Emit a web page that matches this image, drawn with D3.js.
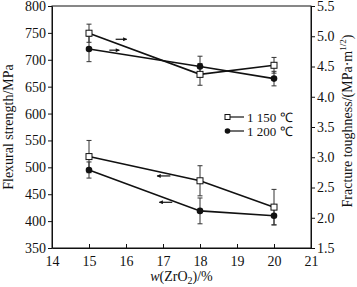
<!DOCTYPE html>
<html><head><meta charset="utf-8">
<script src="https://cdn.jsdelivr.net/npm/d3@7"></script>
<style>body{margin:0;background:#fff}svg{display:block}text{font-family:"Liberation Serif","Times New Roman",serif;fill:#111}</style>
</head><body><svg id="c" width="357" height="287"></svg>
<script>
const xValues = [15, 18, 20];
const xTicks = [14, 15, 16, 17, 18, 19, 20, 21];
const leftTicks = [350, 400, 450, 500, 550, 600, 650, 700, 750, 800];
const rightTicks = [1.5, 2.0, 2.5, 3.0, 3.5, 4.0, 4.5, 5.0, 5.5];
const seriesNames = ["1 150 \u2103", "1 200 \u2103"];
const strength1150 = [520, 475, 426];
const strength1150Err = [30, 28, 33];
const strength1200 = [495, 419, 410];
const strength1200Err = [15, 24, 17];
const tough1150 = [5.05, 4.37, 4.52];
const tough1150Err = [0.15, 0.18, 0.13];
const tough1200 = [4.79, 4.5, 4.3];
const tough1200Err = [0.21, 0.17, 0.12];
// arrows: [x0, x1, value, axis]
const arrows = [
  [15.72, 16.02, 4.95, "right"],
  [15.55, 15.82, 4.77, "right"],
  [17.2, 16.84, 484, "left"],
  [17.25, 16.9, 435, "left"]
];

const svg = d3.select("#c");
const L = 52, R = 311, T = 6, B = 248;
const x = d3.scaleLinear().domain([14, 21]).range([L, R]);
const yL = d3.scaleLinear().domain([350, 800]).range([B, T]);
const yR = d3.scaleLinear().domain([1.5, 5.5]).range([B, T]);

const defs = svg.append("defs");
defs.append("marker").attr("id","ah").attr("viewBox","0 0 10 10").attr("refX",9).attr("refY",5)
  .attr("markerWidth",6).attr("markerHeight",4).attr("markerUnits","userSpaceOnUse").attr("orient","auto")
  .append("path").attr("d","M0,0L10,5L0,10z").attr("fill","#111");

svg.append("rect").attr("x",L).attr("y",T).attr("width",R-L).attr("height",B-T)
  .attr("fill","none").attr("stroke","#111").attr("stroke-width",1);

const fs = 14;
const gx = svg.append("g").attr("transform",`translate(0,${B})`)
  .call(d3.axisBottom(x).tickValues(xTicks).tickFormat(d3.format("d")).tickSizeInner(-4).tickSizeOuter(0).tickPadding(8));
const gl = svg.append("g").attr("transform",`translate(${L},0)`)
  .call(d3.axisLeft(yL).tickValues(leftTicks).tickFormat(d3.format("d")).tickSizeInner(4).tickSizeOuter(0).tickPadding(2));
const gr = svg.append("g").attr("transform",`translate(${R},0)`)
  .call(d3.axisRight(yR).tickValues(rightTicks).tickFormat(d3.format(".1f")).tickSizeInner(4).tickSizeOuter(0).tickPadding(2));
[gx, gl, gr].forEach(g => {
  g.select(".domain").attr("stroke","#111");
  g.selectAll(".tick line").attr("stroke","#111");
  g.selectAll("text").attr("font-size",fs).attr("font-family","Liberation Serif").attr("fill","#111");
});

const xt = svg.append("text").attr("x",(L+R)/2).attr("y",281).attr("text-anchor","middle").attr("font-size",14);
xt.append("tspan").attr("font-style","italic").text("w");
xt.append("tspan").text("(ZrO");
xt.append("tspan").attr("font-size",10).attr("dy",3).text("2");
xt.append("tspan").attr("dy",-3).text(")/%");

svg.append("text").attr("transform",`translate(13,${(T+B)/2}) rotate(-90)`).attr("text-anchor","middle")
  .attr("font-size",14).text("Flexural strength/MPa");
const rt = svg.append("text").attr("transform",`translate(352,${(T+B)/2 - 6}) rotate(-90)`).attr("text-anchor","middle")
  .attr("font-size",14);
rt.append("tspan").text("Fracture toughness/(MPa\u00b7m");
rt.append("tspan").attr("font-size",9).attr("dy",-6).text("1/2");
rt.append("tspan").attr("dy",6).text(")");

const line = (ys, sc) => d3.line().x((d,i)=>x(xValues[i])).y(d=>sc(d))(ys);
const series = [
  {v: tough1150, e: tough1150Err, sc: yR, open: true},
  {v: tough1200, e: tough1200Err, sc: yR, open: false},
  {v: strength1150, e: strength1150Err, sc: yL, open: true},
  {v: strength1200, e: strength1200Err, sc: yL, open: false}
];
series.forEach(s => {
  const g = svg.append("g");
  s.v.forEach((d,i) => {
    const cx = x(xValues[i]), y0 = s.sc(d - s.e[i]), y1 = s.sc(d + s.e[i]);
    g.append("line").attr("x1",cx).attr("x2",cx).attr("y1",y0).attr("y2",y1).attr("stroke","#333").attr("stroke-width",1);
    [y0,y1].forEach(yy => g.append("line").attr("x1",cx-2.5).attr("x2",cx+2.5).attr("y1",yy).attr("y2",yy).attr("stroke","#333").attr("stroke-width",1));
  });
});
series.forEach(s => {
  svg.append("path").attr("d", line(s.v, s.sc)).attr("fill","none").attr("stroke","#111").attr("stroke-width",1.6);
});
series.forEach(s => {
  s.v.forEach((d,i) => {
    const cx = x(xValues[i]), cy = s.sc(d);
    if (s.open) svg.append("rect").attr("x",cx-3).attr("y",cy-3).attr("width",6).attr("height",6)
      .attr("fill","#fff").attr("stroke","#111").attr("stroke-width",1);
    else svg.append("circle").attr("cx",cx).attr("cy",cy).attr("r",3.3).attr("fill","#111");
  });
});

arrows.forEach(a => {
  const sc = a[3] === "right" ? yR : yL;
  svg.append("line").attr("x1",x(a[0])).attr("x2",x(a[1])).attr("y1",sc(a[2])).attr("y2",sc(a[2]))
    .attr("stroke","#111").attr("stroke-width",1.2).attr("marker-end","url(#ah)");
});

const lg = svg.append("g");
seriesNames.forEach((n,i) => {
  const yy = 117 + i*14;
  lg.append("line").attr("x1",230).attr("x2",244).attr("y1",yy).attr("y2",yy).attr("stroke","#111").attr("stroke-width",1.2);
  if (i===0) lg.append("rect").attr("x",225).attr("y",yy-2.5).attr("width",5).attr("height",5).attr("fill","#fff").attr("stroke","#111");
  else lg.append("circle").attr("cx",227.5).attr("cy",yy).attr("r",2.8).attr("fill","#111");
  lg.append("text").attr("x",247).attr("y",yy+4.5).attr("font-size",13).text(n);
});
</script></body></html>
